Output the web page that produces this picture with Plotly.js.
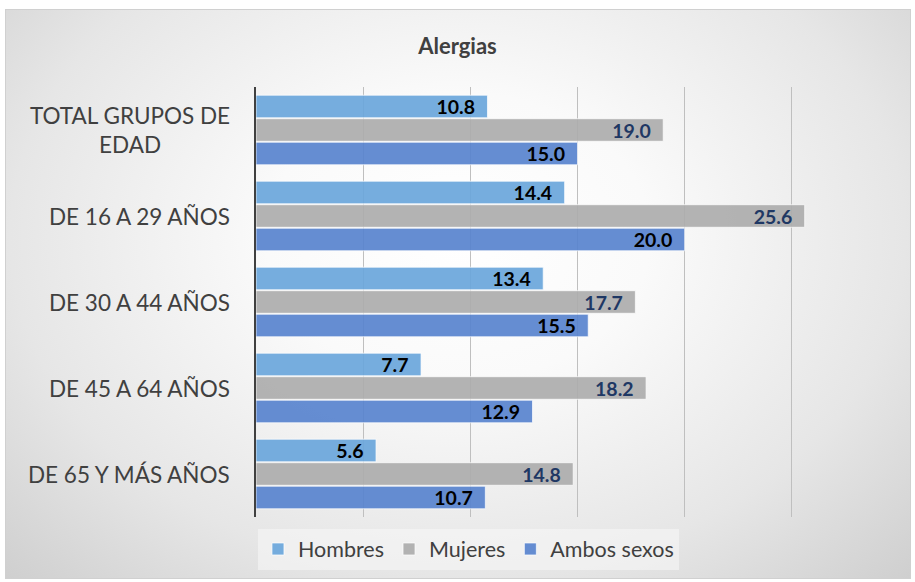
<!DOCTYPE html>
<html>
<head>
<meta charset="utf-8">
<script src="https://cdn.plot.ly/plotly-3.0.1.min.js"></script>
<style>
html,body{margin:0;padding:0;background:#ffffff;}
#bg{position:absolute;left:5px;top:9px;width:904px;height:568px;border:1px solid #d0d0d0;
background:radial-gradient(ellipse at 50% 40%, #ffffff 0%, #fafafa 30%, #e6e6e6 70%, #cfcfcf 100%);}
#chart{position:absolute;left:0;top:0;width:915px;height:582px;}
</style>
</head>
<body>
<div id="bg"></div>
<div id="chart"></div>
<script>
const categories = ["TOTAL GRUPOS DE<br>EDAD", "DE 16 A 29 AÑOS", "DE 30 A 44 AÑOS", "DE 45 A 64 AÑOS", "DE 65 Y MÁS AÑOS"];
const seriesNames = ["Hombres", "Mujeres", "Ambos sexos"];
const hombres = [10.8, 14.4, 13.4, 7.7, 5.6];
const mujeres = [19.0, 25.6, 17.7, 18.2, 14.8];
const ambos = [15.0, 20.0, 15.5, 12.9, 10.7];
const seriesValues = [hombres, mujeres, ambos];
const colors = ["rgba(106,166,219,0.92)", "rgba(172,172,172,0.92)", "rgba(88,131,206,0.92)"];
const labelColors = ["#000000", "#1f3864", "#000000"];
const FONT = "Lato, 'Open Sans', sans-serif";

const traces = seriesValues.map((vals, i) => ({
  type: "bar",
  orientation: "h",
  name: seriesNames[i],
  y: categories,
  x: vals,
  texttemplate: "%{x:.1f}\u00a0\u00a0",
  textposition: "inside",
  insidetextanchor: "end",
  constraintext: "none",
  textangle: 0,
  insidetextfont: {family: FONT, size: 19.5, color: labelColors[i], weight: "bold"},
  marker: {color: colors[i], line: {color: "rgba(255,255,255,0.7)", width: 1}},
  hoverinfo: "x+name"
}));

const annotations = categories.map(c => ({
  xref: "paper", yref: "y", x: -0.038, y: c,
  xanchor: "right", yanchor: "middle", align: "center",
  text: c, showarrow: false,
  font: {family: FONT, size: 22.5, color: "#404040"}
}));

const layout = {
  width: 915, height: 582,
  paper_bgcolor: "rgba(0,0,0,0)",
  plot_bgcolor: "rgba(0,0,0,0)",
  margin: {l: 256, r: 16, t: 87, b: 65},
  barmode: "group",
  bargap: 0.18,
  bargroupgap: 0.04,
  title: {text: "<b>Alergias</b>", x: 0.5, xref: "container", xanchor: "center",
          y: 1 - 46/582, yref: "container", yanchor: "middle",
          font: {family: FONT, size: 22, color: "#404040"}},
  xaxis: {range: [0, 30], dtick: 5, tick0: 0, showgrid: true, gridcolor: "#bfbfbf", gridwidth: 1,
          showticklabels: false, zeroline: false, showline: false, fixedrange: true},
  yaxis: {autorange: "reversed", showticklabels: false, showline: true, linecolor: "#404040",
          linewidth: 2, showgrid: false, zeroline: false, ticks: "", fixedrange: true},
  showlegend: true,
  legend: {orientation: "h", x: 0.512, xref: "container", xanchor: "center",
           y: 1 - 549/582, yref: "container", yanchor: "middle",
           bgcolor: "rgba(246,246,246,0.6)", borderwidth: 0,
           font: {family: FONT, size: 21.5, color: "#404040"},
           itemwidth: 30, traceorder: "normal"},
  annotations: annotations
};

Plotly.newPlot("chart", traces, layout, {displayModeBar: false, staticPlot: true});
</script>
</body>
</html>
